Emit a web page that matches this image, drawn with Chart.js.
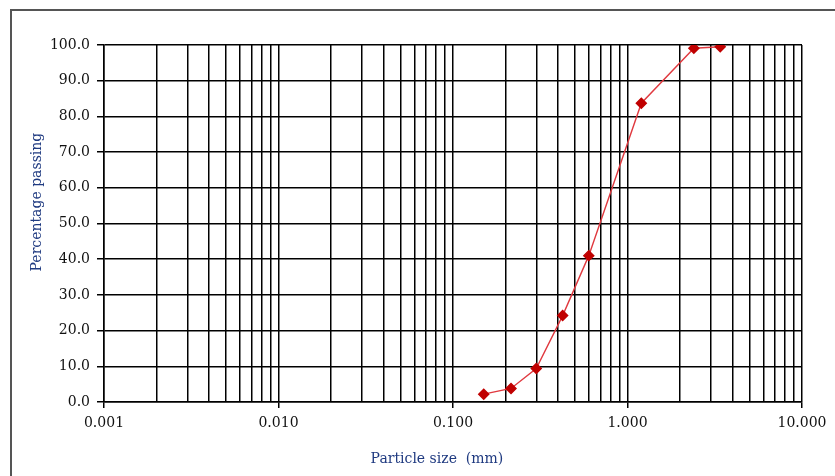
<!DOCTYPE html>
<html>
<head>
<meta charset="utf-8">
<script src="https://cdn.jsdelivr.net/npm/chart.js@4.4.1/dist/chart.umd.min.js"></script>
<style>
  html, body { margin: 0; padding: 0; background: #fff; }
  .wrap { position: relative; width: 835px; height: 476px; overflow: hidden; }
  .frame { position: absolute; left: 10px; top: 9px; width: 900px; height: 600px; border: 2px solid #555; box-sizing: border-box; }
  canvas { position: absolute; left: 0; top: 0; }
</style>
</head>
<body>
<div class="wrap">
  <div class="frame"></div>
  <canvas id="chart" width="835" height="476"></canvas>
</div>
<script>
// sieve results
const sizes = [0.15, 0.215, 0.3, 0.425, 0.6, 1.2, 2.4, 3.4];
const passing = [2.2, 3.8, 9.4, 24.2, 41.0, 83.7, 99.1, 99.5];
const decades = [0.001, 0.01, 0.1, 1, 10];
const yTicks = [0, 10, 20, 30, 40, 50, 60, 70, 80, 90, 100];
const yTitle = 'Percentage passing';
const xTitle = 'Particle size  (mm)';

const serif = "'DejaVu Serif', 'Liberation Serif', serif";
const navy = '#1f3a80';

// vertical grid: 1..9 inside every decade
const xTicks = [];
decades.forEach((d, i) => {
  if (i === decades.length - 1) { xTicks.push(d); return; }
  for (let m = 1; m < 10; m++) xTicks.push(+(d * m).toPrecision(3));
});
const isDecade = (v) => decades.some((d) => Math.abs(v - d) / d < 1e-6);

// axis titles are a little off-centre in the original, so draw them by hand
const titlesPlugin = {
  id: 'axisTitles',
  afterDraw(chart) {
    const { ctx, chartArea } = chart;
    const w = chartArea.right - chartArea.left;
    const h = chartArea.bottom - chartArea.top;
    ctx.save();
    ctx.font = '14px ' + serif;
    ctx.fillStyle = navy;
    ctx.textAlign = 'center';
    ctx.textBaseline = 'middle';
    ctx.fillText(xTitle, chartArea.left + w * 0.477, chartArea.bottom + 57);
    ctx.translate(37, chartArea.top + h * 0.44);
    ctx.rotate(-Math.PI / 2);
    ctx.fillText(yTitle, 0, 0);
    ctx.restore();
  }
};

const data = {
  datasets: [{
    label: yTitle,
    data: sizes.map((s, i) => ({ x: s, y: passing[i] })),
    borderColor: '#e0393f',
    borderWidth: 1.4,
    backgroundColor: '#c00000',
    pointStyle: 'rectRot',
    pointRadius: 5,
    pointBorderColor: '#c00000',
    pointBackgroundColor: '#c00000',
    tension: 0
  }]
};

const config = {
  type: 'scatter',
  data,
  plugins: [titlesPlugin],
  options: {
    responsive: false,
    animation: false,
    showLine: true,
    layout: { padding: { left: 0, top: 45, right: 33, bottom: 0 } },
    plugins: { legend: { display: false }, tooltip: { enabled: false } },
    scales: {
      x: {
        type: 'logarithmic',
        min: 0.001,
        max: 10,
        afterBuildTicks: (scale) => { scale.ticks = xTicks.map((v) => ({ value: v })); },
        afterFit: (scale) => { scale.height = 74; },
        border: { color: '#000', width: 1.5 },
        grid: {
          color: '#000',
          lineWidth: 1.5,
          tickLength: 6,
          tickColor: (ctx) => (ctx.tick && isDecade(ctx.tick.value) ? '#000' : 'rgba(0,0,0,0)')
        },
        ticks: {
          autoSkip: false,
          maxRotation: 0,
          padding: 7,
          color: '#111',
          font: { family: serif, size: 14 },
          callback: (v) => (isDecade(v) ? v.toFixed(3) : '')
        },
        title: { display: false }
      },
      y: {
        min: 0,
        max: 100,
        afterBuildTicks: (scale) => { scale.ticks = yTicks.map((v) => ({ value: v })); },
        afterFit: (scale) => { scale.width = 104; },
        border: { color: '#000', width: 1.5 },
        grid: { color: '#000', lineWidth: 1.5, tickLength: 7 },
        ticks: {
          padding: 7,
          color: '#111',
          font: { family: serif, size: 14 },
          callback: (v) => v.toFixed(1)
        },
        title: { display: false }
      }
    }
  }
};

const chart = new Chart(document.getElementById('chart'), config);
</script>
</body>
</html>
